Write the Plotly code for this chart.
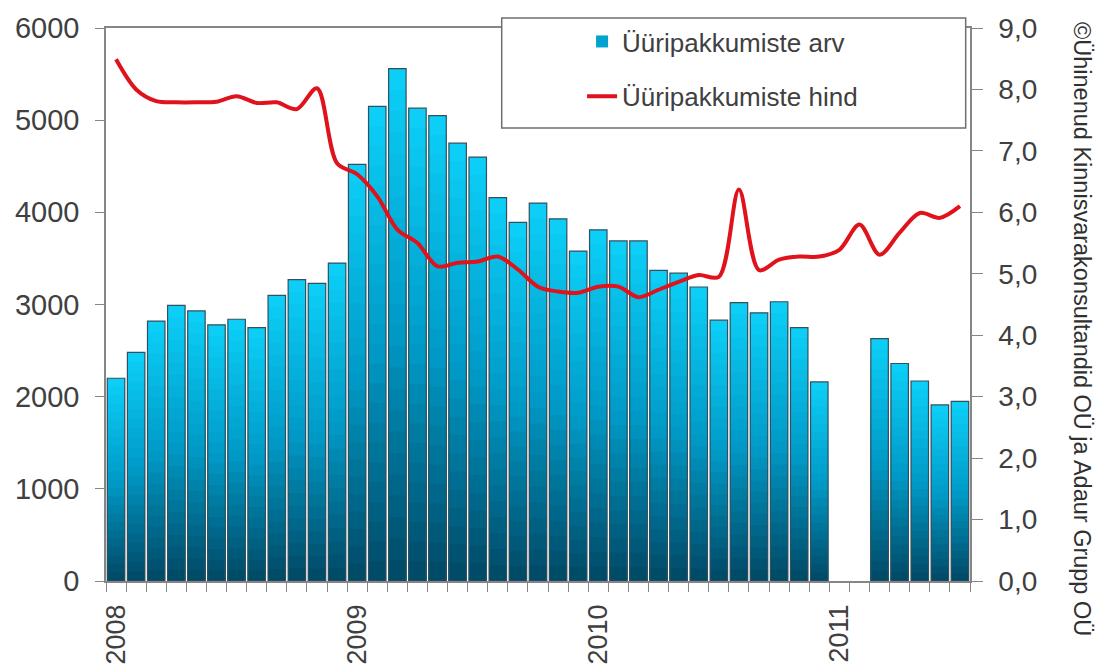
import plotly.graph_objects as go

# ---- data -------------------------------------------------------------
months = [
    "2008-01", "2008-02", "2008-03", "2008-04", "2008-05", "2008-06",
    "2008-07", "2008-08", "2008-09", "2008-10", "2008-11", "2008-12",
    "2009-01", "2009-02", "2009-03", "2009-04", "2009-05", "2009-06",
    "2009-07", "2009-08", "2009-09", "2009-10", "2009-11", "2009-12",
    "2010-01", "2010-02", "2010-03", "2010-04", "2010-05", "2010-06",
    "2010-07", "2010-08", "2010-09", "2010-10", "2010-11", "2010-12",
    "2011-01", "2011-02", "2011-03", "2011-04", "2011-05", "2011-06",
    "2011-07",
]

offer_count = [
    2200, 2480, 2820, 2990, 2930, 2780, 2840, 2750, 3100, 3270, 3230, 3450,
    4520, 5150, 5560, 5130, 5050, 4750, 4600, 4160, 3890, 4100, 3930, 3580,
    3810, 3690, 3690, 3370, 3340, 3190, 2830, 3020, 2910, 3030, 2750, 2160,
    None, None, 2630, 2360, 2170, 1910, 1950,
]

offer_price = [
    8.49, 8.00, 7.81, 7.79, 7.79, 7.80, 7.89, 7.78, 7.79, 7.68, 8.02, 6.80,
    6.62, 6.26, 5.72, 5.50, 5.12, 5.18, 5.20, 5.28, 5.07, 4.79, 4.71, 4.69,
    4.79, 4.79, 4.62, 4.74, 4.87, 4.98, 4.95, 6.37, 5.06, 5.23, 5.28, 5.28,
    5.39, 5.80, 5.31, 5.67, 5.99, 5.91, 6.10,
]

year_labels = ["2008", "2009", "2010", "2011"]
left_ticks = [0, 1000, 2000, 3000, 4000, 5000, 6000]
right_ticks = [0, 1, 2, 3, 4, 5, 6, 7, 8, 9]
right_ticktext = ["0,0", "1,0", "2,0", "3,0", "4,0", "5,0", "6,0", "7,0", "8,0", "9,0"]

name_count = "Üüripakkumiste arv"
name_price = "Üüripakkumiste hind"
credit = "©Ühinenud Kinnisvarakonsultandid OÜ ja Adaur Grupp OÜ"

# ---- styling ----------------------------------------------------------
FONT = "Liberation Sans, Arial, sans-serif"
TXT = "#404040"
AXIS = "#868686"

x_idx = list(range(len(months)))
year_pos = [months.index(y + "-01") for y in year_labels]

fig = go.Figure()

# vertical gradient for the bars: overlaid layers, light at top, dark at bottom
top_c = (12, 208, 248)
mid_c = (0, 155, 200)
bot_c = (0, 72, 100)
N = 24


def grad_color(t):
    # t = 1 at the bar top, 0 at the bottom
    if t >= 0.5:
        u = (t - 0.5) / 0.5
        c = [mid_c[i] + (top_c[i] - mid_c[i]) * u for i in range(3)]
    else:
        u = t / 0.5
        c = [bot_c[i] + (mid_c[i] - bot_c[i]) * u for i in range(3)]
    return "rgb(%d,%d,%d)" % tuple(int(round(v)) for v in c)


for k in range(N):
    frac = 1 - k / N
    t = 1 - (k + 0.5) / N
    yk = [None if v is None else v * frac for v in offer_count]
    fig.add_trace(go.Bar(
        x=x_idx, y=yk, name=name_count,
        marker=dict(color=grad_color(t), line=dict(width=0)),
        showlegend=(k == N // 2 - 2), legendgroup="count",
        hoverinfo="skip",
    ))

# outline for the bars
fig.add_trace(go.Bar(
    x=x_idx, y=offer_count, name=name_count,
    marker=dict(color="rgba(0,0,0,0)", line=dict(color="#34505e", width=1.2)),
    showlegend=False, legendgroup="count",
    customdata=months, hovertemplate="%{customdata}: %{y}<extra></extra>",
))

fig.add_trace(go.Scatter(
    x=x_idx, y=offer_price, name=name_price, yaxis="y2",
    mode="lines", line=dict(color="#E0121C", width=4, shape="spline", smoothing=0.9),
    legendgroup="price",
    customdata=months, hovertemplate="%{customdata}: %{y}<extra></extra>",
))

# the page body has an 8 px margin, so the figure is drawn 8 px in from the corner
fig.update_layout(
    width=1096, height=658,
    margin=dict(l=98, r=134, t=20, b=85, autoexpand=False),
    paper_bgcolor="white", plot_bgcolor="white",
    barmode="overlay", bargap=0.13,
    font=dict(family=FONT, size=28, color=TXT),
    showlegend=True,
    legend=dict(
        x=0.551, y=1.018, xanchor="left", yanchor="top",
        bgcolor="rgba(0,0,0,0)", borderwidth=0,
        font=dict(family=FONT, size=26, color=TXT),
        traceorder="grouped", tracegroupgap=18,
        itemwidth=30,
    ),
    xaxis=dict(
        range=[-0.5, len(months) - 0.5], automargin=False,
        tickmode="array", tickvals=year_pos, ticktext=year_labels,
        tickangle=-90, ticks="", ticklabelstandoff=11,
        tickfont=dict(family=FONT, size=27, color=TXT),
        showline=True, linecolor=AXIS, linewidth=1.5, mirror=True,
        showgrid=False, zeroline=False,
        minor=dict(
            tickmode="array",
            tickvals=[i - 0.5 for i in range(len(months) + 1)],
            ticks="outside", ticklen=9, tickcolor=AXIS, tickwidth=1.3,
            showgrid=False,
        ),
    ),
    yaxis=dict(
        range=[0, 6000], tickmode="array", tickvals=left_ticks, automargin=False,
        ticks="outside", ticklen=9, tickcolor=AXIS, tickwidth=1.3,
        showline=True, linecolor=AXIS, linewidth=1.5,
        showgrid=False, zeroline=False, ticklabelstandoff=10,
        tickfont=dict(family=FONT, size=29, color=TXT),
    ),
    yaxis2=dict(
        range=[0, 9], overlaying="y", side="right", automargin=False,
        tickmode="array", tickvals=right_ticks, ticktext=right_ticktext,
        ticks="outside", ticklen=11, tickcolor=AXIS, tickwidth=1.3,
        showline=True, linecolor=AXIS, linewidth=1.5,
        showgrid=False, zeroline=False, ticklabelstandoff=10,
        tickfont=dict(family=FONT, size=28, color=TXT),
    ),
    shapes=[dict(
        type="rect", xref="paper", yref="paper",
        x0=0.458, x1=0.995, y0=0.819, y1=1.018,
        line=dict(color="#6e6e6e", width=1.5), fillcolor="white", layer="above",
    )],
    annotations=[dict(
        text=credit, xref="paper", yref="paper", x=1.129, y=0.455,
        xanchor="center", yanchor="middle", textangle=90, showarrow=False,
        font=dict(family=FONT, size=23.5, color="#303030"),
    )],
)

fig.write_html("out.html")
